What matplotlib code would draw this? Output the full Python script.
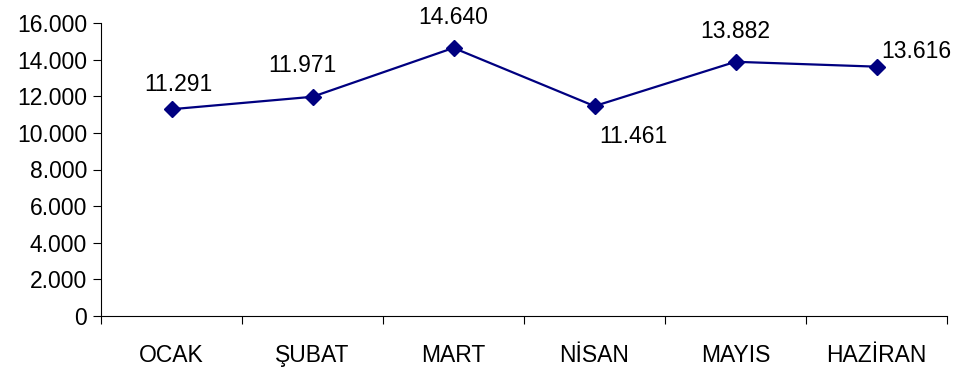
import matplotlib.pyplot as plt
from matplotlib.ticker import FuncFormatter

months = ['OCAK', 'ŞUBAT', 'MART', 'NİSAN', 'MAYIS', 'HAZİRAN']
values = [11291, 11971, 14640, 11461, 13882, 13616]
# label offsets in pixels (dx, dy) relative to each point
offsets = [(7, 25), (-10, 31), (0, 30), (39, -30), (0, 30), (40, 15)]

plt.rcParams['font.family'] = ['Liberation Sans', 'DejaVu Sans']
plt.rcParams['font.size'] = 16.5

fig = plt.figure(figsize=(9.59, 3.67), dpi=100)
ax = fig.add_axes([101/959, 51/367, 846/959, 293/367])

x = range(len(months))
ax.plot(x, values, color='#000080', lw=1.6, marker='D', ms=8, mec='#000080', mfc='#000080')

for i, v in enumerate(values):
    ax.annotate(f'{v:,}'.replace(',', '.'), (i, v), xytext=offsets[i],
                textcoords='offset pixels', ha='center', va='center')

ax.set_xlim(-0.5, len(months) - 0.5)
ax.set_ylim(0, 16000)
ax.set_yticks(range(0, 16001, 2000))
ax.yaxis.set_major_formatter(FuncFormatter(lambda v, p: f'{int(v):,}'.replace(',', '.')))
ax.set_xticks([i + 0.5 for i in range(-1, len(months))])
ax.set_xticklabels([])
ax.set_xticks(list(x), minor=True)
ax.set_xticklabels(months, minor=True)
ax.tick_params(axis='x', which='minor', length=0, pad=20)
ax.tick_params(axis='x', which='major', length=6, direction='out')
ax.tick_params(axis='y', length=6, direction='out', pad=4)

for s in ['top', 'right']:
    ax.spines[s].set_visible(False)

fig.savefig('out.png', dpi=100)
